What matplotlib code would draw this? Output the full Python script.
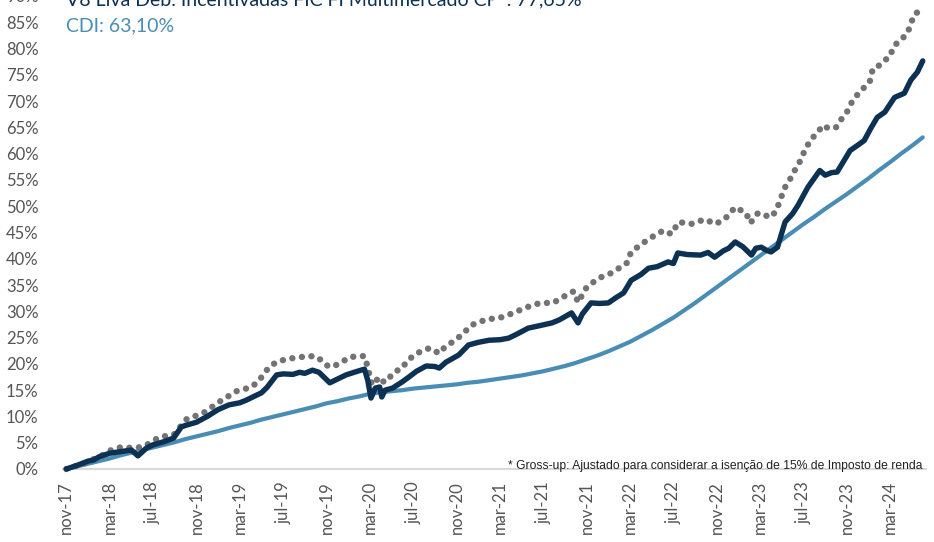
import matplotlib
matplotlib.use("Agg")
import matplotlib.pyplot as plt

# rótulos do eixo x (a cada 4 meses, a partir de nov-17)
x_labels = ["nov-17", "mar-18", "jul-18", "nov-18", "mar-19", "jul-19", "nov-19",
            "mar-20", "jul-20", "nov-20", "mar-21", "jul-21", "nov-21", "mar-22",
            "jul-22", "nov-22", "mar-23", "jul-23", "nov-23", "mar-24"]

# CDI acumulado (%), um valor por mês desde nov-17
cdi = [0, 0.5, 1.0, 1.5, 2.0, 2.6, 3.1, 3.6, 4.1, 4.6, 5.1, 5.7, 6.2, 6.7, 7.2, 7.8,
       8.3, 8.8, 9.4, 9.9, 10.4, 10.9, 11.4, 11.9, 12.5, 12.9, 13.4, 13.8, 14.3, 14.6,
       14.8, 15.0, 15.3, 15.5, 15.7, 15.9, 16.1, 16.4, 16.6, 16.9, 17.2, 17.5, 17.8,
       18.2, 18.6, 19.1, 19.6, 20.2, 20.9, 21.6, 22.4, 23.3, 24.2, 25.3, 26.4, 27.6,
       28.8, 30.2, 31.6, 33.1, 34.6, 36.1, 37.6, 39.1, 40.6, 42.1, 43.6, 45.1, 46.6,
       48.0, 49.5, 50.9, 52.3, 53.8, 55.3, 56.9, 58.4, 60.0, 61.5, 63.1]
cdi_meses = list(range(len(cdi)))

# fundo (meses desde nov-17, retorno acumulado %)
fundo_meses = [0, 1, 2, 2.5, 3, 4, 5, 6, 6.6, 7.4, 8, 9, 9.9, 10.6, 11, 12, 13, 14, 15, 16,
               16.6, 17, 18, 18.5, 19.4, 20, 20.9, 21.5, 22, 22.7, 23.3, 24.3, 25, 25.8,
               26.7, 27.5, 27.8, 28.1, 28.5, 28.9, 29.1, 29.4, 30.1, 31, 31.6, 32.3, 33.2,
               34, 34.4, 35, 36.2, 37.1, 38, 39, 40, 40.8, 41.5, 42.6, 43.5, 44.8, 45.5,
               46.6, 47.2, 47.6, 48.4, 49.2, 50, 50.7, 51.4, 52.1, 53, 53.7, 54.5, 55.5,
               56, 56.4, 57.3, 58.5, 59.2, 59.8, 60.6, 61.1, 61.7, 62.4, 63.2, 63.6, 64.1,
               64.6, 65, 65.6, 66.3, 67.0, 67.5, 68.4, 69.5, 70, 70.6, 71.1, 72.3, 73.0,
               73.6, 74.2, 74.8, 75.5, 76.4, 77.3, 77.9, 78.5, 79]
fundo = [0, 0.7, 1.5, 1.7, 2.3, 3.0, 3.3, 3.6, 2.5, 4.0, 4.6, 5.2, 5.9, 8.0, 8.3, 8.9, 10.0,
         11.3, 12.2, 12.6, 13.1, 13.5, 14.5, 15.5, 17.9, 18.1, 18.0, 18.4, 18.2, 18.8,
         18.4, 16.4, 17.1, 17.9, 18.5, 19.0, 16.9, 13.5, 15.4, 15.6, 13.7, 15.0, 15.4,
         16.6, 17.5, 18.6, 19.6, 19.5, 19.2, 20.3, 21.7, 23.6, 24.1, 24.5, 24.6, 24.9,
         25.6, 26.8, 27.2, 27.8, 28.4, 29.7, 27.8, 29.5, 31.6, 31.5, 31.6, 32.6, 33.5,
         35.9, 37.0, 38.2, 38.5, 39.4, 39.1, 41.1, 40.8, 40.7, 41.2, 40.3, 41.5, 42.0,
         43.2, 42.3, 40.7, 42.0, 42.2, 41.6, 41.3, 42.2, 47.0, 48.6, 50.2, 53.6, 56.8,
         55.9, 56.4, 56.5, 60.6, 61.6, 62.5, 64.8, 66.9, 67.9, 70.7, 71.5, 74.0, 75.5,
         77.65]

# fundo com gross-up (%)
gross_meses = [0, 1.7, 3.4, 4.3, 5.2, 6, 7.1, 8.6, 9.9, 11.1, 12.6, 14.2, 15.7, 17.1, 17.8,
               18.7, 19.5, 20.9, 22.4, 23.2, 23.9, 24.5, 25.4, 26.1, 27.5, 27.8, 28.0, 28.2,
               28.9, 29.3, 29.7, 30.2, 31, 31.4, 32.3, 33.5, 34.4, 35.0, 35.9, 36.7, 37.4,
               38.8, 39.9, 41, 42.5, 43.7, 44.9, 46.3, 46.8, 47.2, 48, 49.1, 50.3, 51.7,
               52.1, 53.2, 54.3, 55.1, 55.8, 56.5, 57.6, 58.9, 59.9, 60.8, 61.7, 62.7, 63.1,
               63.8, 65, 65.5, 65.9, 66.3, 66.7, 67.1, 67.6, 68.2, 68.7, 69.4, 69.8, 70.3,
               71, 71.4, 72, 72.4, 73, 73.5, 74.1, 74.4, 75, 75.5, 75.9, 76.4, 77.1, 77.6,
               77.9, 78.3, 78.8, 79]
gross = [0, 1.1, 2.7, 3.8, 4.2, 4.0, 4.2, 6.1, 6.5, 9.5, 10.6, 12.9, 14.8, 15.6, 16.9, 19.4,
         20.5, 21.1, 21.5, 21.3, 19.8, 19.4, 20.3, 21.3, 21.5, 19.4, 17.5, 16.0, 17.5, 16.5,
         17.1, 18.4, 19.2, 20.5, 22.0, 23.0, 22.0, 23.4, 24.5, 26.0, 27.4, 28.5, 28.7, 29.5,
         30.8, 31.6, 31.6, 33.3, 33.8, 31.7, 34.6, 36.3, 37.3, 39.2, 41.3, 43.0, 44.5, 45.4,
         44.7, 47.0, 46.6, 47.5, 46.6, 47.7, 49.8, 48.7, 46.8, 48.7, 47.9, 49.2, 51.5, 53.6,
         54.9, 56.5, 58.2, 61.0, 62.7, 64.3, 65.4, 64.8, 65.0, 66.3, 67.9, 69.6, 71.3, 72.4,
         73.6, 76.2, 76.8, 77.8, 78.3, 80.6, 81.9, 82.9, 84.8, 86.7, 87.1, 87.5]

y_ticks = list(range(0, 95, 5))

navy = "#0c3152"
azul = "#4a8db4"
cinza = "#737373"
texto = "#555555"

fig = plt.figure(figsize=(9.34, 5.42), dpi=100)
ax = fig.add_axes([0.0664, 0.1153, 0.9262, 0.8921])

ax.axhline(0, color="#d9d9d9", lw=1.5, zorder=1)
ax.plot(cdi_meses, cdi, color=azul, lw=3.0, solid_capstyle="round", zorder=2)
ax.plot(gross_meses, gross, color=cinza, lw=4.6, linestyle=(0, (0.01, 1.5)),
        dash_capstyle="round", zorder=3)
ax.plot(fundo_meses, fundo, color=navy, lw=3.9, solid_capstyle="round",
        solid_joinstyle="round", zorder=4)

ax.set_xlim(-0.4, 79.4)
ax.set_ylim(-2, 90)
ax.set_xticks(range(0, 4 * len(x_labels), 4))
ax.set_xticklabels(x_labels, rotation=90, fontsize=12, color=texto, family="Lato")
ax.set_yticks(y_ticks)
ax.set_yticklabels([f"{v}%" for v in y_ticks], fontsize=12, color=texto, family="Lato")
ax.tick_params(axis="both", length=0)
ax.tick_params(axis="y", pad=17)
ax.tick_params(axis="x", pad=1)
for s in ax.spines.values():
    s.set_visible(False)

# títulos cortados no topo, como na imagem original
fig.text(66 / 934, 1 - 5 / 542, "V8 Liva Deb. Incentivadas FIC FI Multimercado CP*: 77,65%",
         color=navy, fontsize=14, family="Lato", va="baseline")
fig.text(66 / 934, 1 - 31 / 542, "CDI: 63,10%", color=azul, fontsize=14,
         family="Lato", va="baseline")
fig.text(922 / 934, 1 - 469 / 542,
         "* Gross-up: Ajustado para considerar a isenção de 15% de Imposto de renda",
         color="#222222", fontsize=8.7, family=["Liberation Sans Narrow", "Liberation Sans"],
         ha="right", va="baseline")

fig.savefig("out.png", dpi=100)
